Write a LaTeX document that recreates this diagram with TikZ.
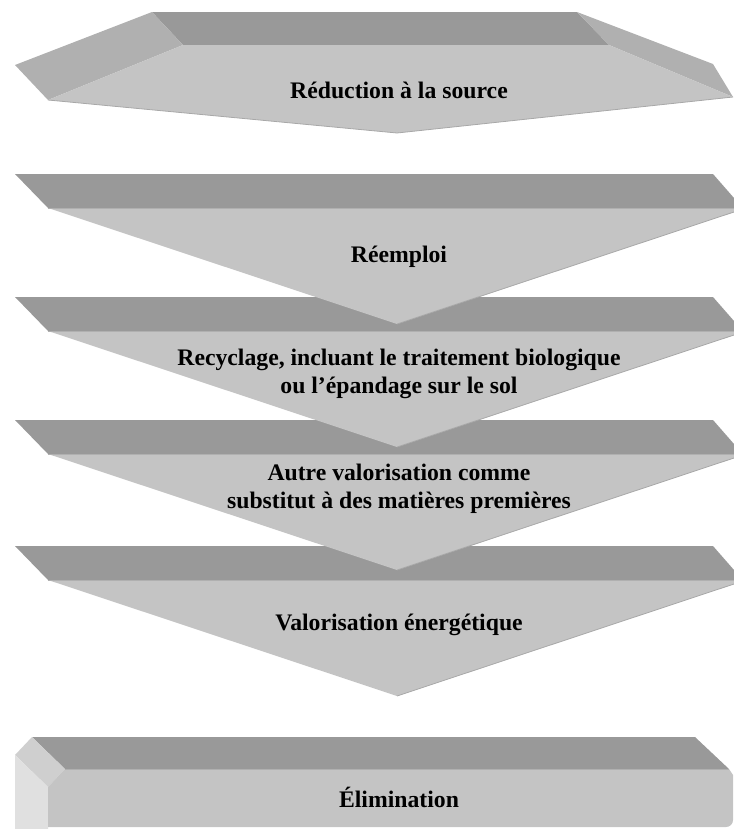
\documentclass[tikz,border=0pt]{standalone}
\usepackage{fontspec}
\setmainfont{Liberation Serif}
\definecolor{bandgray}{HTML}{999999}
\definecolor{facegray}{HTML}{C4C4C4}
\definecolor{bevelgray}{HTML}{B0B0B0}
\definecolor{topgray}{HTML}{CFCFCF}
\definecolor{sidegray}{HTML}{E0E0E0}
\definecolor{edgegray}{HTML}{A8A8A8}
\tikzset{level/.style={font=\bfseries\fontsize{23.8}{28}\selectfont,align=center,anchor=base,inner sep=0pt}}
\begin{document}
\begin{tikzpicture}[x=1bp,y=-1bp,line join=round]
\useasboundingbox(0,0)rectangle(734,829);
% top plate
\fill[bandgray](152,12)--(577,12)--(609,45)--(183,45)--cycle;
\fill[bevelgray](152,12)--(183,45)--(48,100)--(15,65)--cycle;
\fill[bevelgray](577,12)--(713,64)--(733,97)--(609,45)--cycle;
\fill[facegray](183,45)--(609,45)--(733,97)--(397,133)--(48,100)--cycle;
\draw[edgegray,thick](48,100)--(397,133)--(733,97);
% chevrons, the lower ones first
\foreach \t in {546,420,297,174}{
  \fill[bandgray](15,\t)--(713,\t)--(734,\t+24)--(734,\t+34)--(48,\t+34)--cycle;
  \fill[facegray](48,\t+34)--(734,\t+34)--(734,\t+38)--(397,\t+150)--cycle;
  \draw[bevelgray,thick](48,\t+34)--(734,\t+34);
  \draw[edgegray,thick](734,\t+38)--(397,\t+150);
}
% bottom plate
\fill[bandgray](32,737)--(695,737)--(729,769)--(65,769)--cycle;
\fill[topgray](32,737)--(65,769)--(48,787)--(15,755)--cycle;
\fill[sidegray](15,755)--(48,787)--(48,829)--(15,829)--cycle;
\fill[facegray](65,769)--(729,769)--(733,775)[rounded corners=7]--(733,827)[sharp corners]--(48,827)--(48,787)--cycle;
\draw[bevelgray,thick](65,769)--(729,769);
\node[level](reduction)at(399,98){Réduction à la source};
\node[level](reemploi)at(399,262){Réemploi};
\node[level](recyclage)at(399,393){Recyclage, incluant le traitement biologique\\ou l’épandage sur le sol};
\node[level](autre)at(399,508){Autre valorisation comme\\substitut à des matières premières};
\node[level](valorisation)at(399,630){Valorisation énergétique};
\node[level](elimination)at(399,807){Élimination};
\end{tikzpicture}
\end{document}
